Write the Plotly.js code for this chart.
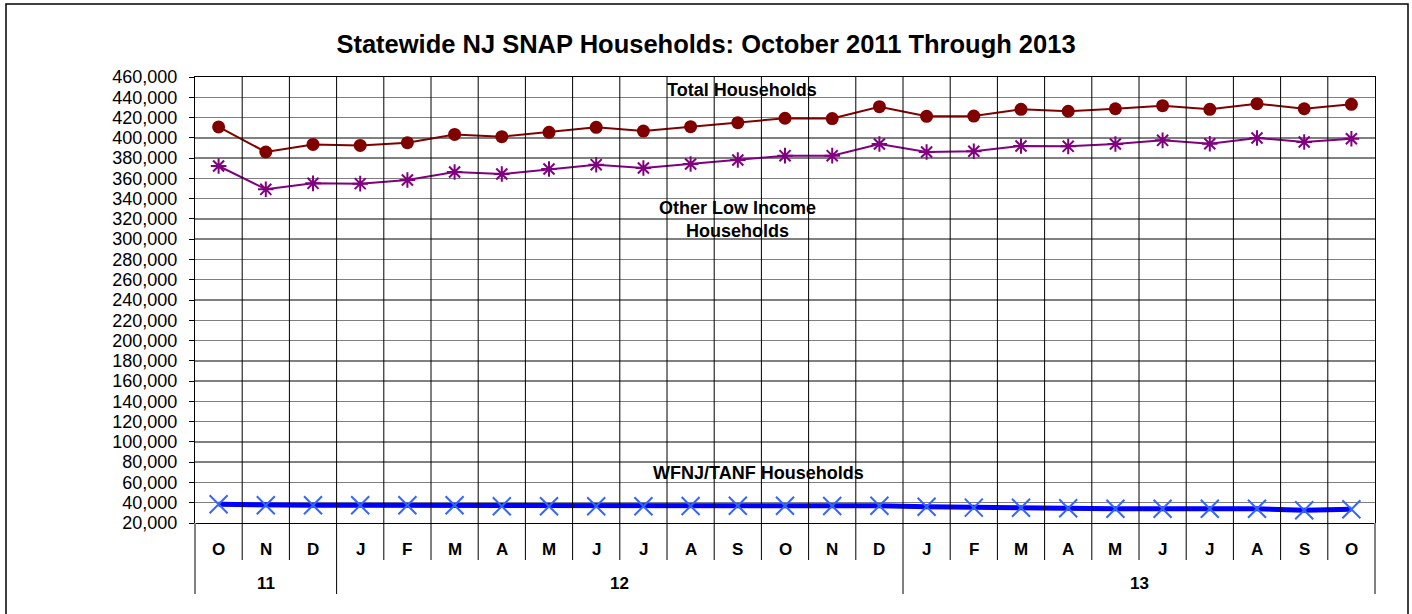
<!DOCTYPE html>
<html>
<head>
<meta charset="utf-8">
<script src="https://cdn.plot.ly/plotly-3.0.1.min.js"></script>
<style>
  html, body { margin: 0; padding: 0; background: #fff; }
  #chart { width: 1412px; height: 614px; }
</style>
</head>
<body>
<div id="chart"></div>
<script>
// ---- Data ----
const months = ["O","N","D","J","F","M","A","M","J","J","A","S","O","N","D","J","F","M","A","M","J","J","A","S","O"];
const years  = ["11","11","11","12","12","12","12","12","12","12","12","12","12","12","12","13","13","13","13","13","13","13","13","13","13"];
const totalHouseholds = [410700, 386000, 393500, 392500, 395200, 403300, 401100, 405400, 410400, 406700, 411000, 414900, 419300, 419000, 430700, 421200, 421500, 428100, 426200, 428700, 431700, 428100, 433700, 428700, 433000];
const otherLowIncome  = [372200, 349200, 355100, 354800, 358400, 366300, 364300, 369200, 373500, 370200, 374200, 378100, 382400, 382400, 393900, 386000, 386700, 391900, 391600, 393900, 397500, 394200, 399800, 395900, 399100];
const tanfHouseholds  = [38500, 37500, 37500, 37500, 37500, 37500, 36500, 36500, 36500, 36500, 36700, 37000, 37000, 36800, 37000, 36000, 35200, 35000, 34500, 34000, 34000, 34000, 34000, 32500, 33500];
const yTickLabels = [];
for (let v = 20000; v <= 460000; v += 20000) yTickLabels.push(v);

// ---- Geometry helpers (pixels of plot area) ----
const W = 1412, H = 614;
const L = 195, R = 1375, T = 77, B = 523;
const pw = R - L, ph = B - T;
const n = months.length;
const idx = months.map((_, i) => i);
const px2paperY = y => (B - y) / ph;
const px2paperX = x => (x - L) / pw;
const FONT = 'Liberation Sans, Arial, sans-serif';

const shapes = [];
// year groups
const yearGroups = [];
let start = 0;
for (let i = 1; i <= n; i++) {
  if (i === n || years[i] !== years[start]) {
    yearGroups.push({label: years[start], s: start, e: i - 1});
    start = i;
  }
}
const yearBoundaries = new Set([0, n]);
yearGroups.forEach(g => { yearBoundaries.add(g.s); yearBoundaries.add(g.e + 1); });

for (let b = 0; b <= n; b++) {
  const xp = b / n;
  const isYear = yearBoundaries.has(b);
  const isEdge = (b === 0 || b === n);
  shapes.push({
    type: 'line', xref: 'paper', yref: 'paper',
    x0: xp, x1: xp,
    y0: isYear ? px2paperY(594) : px2paperY(560),
    y1: isEdge ? 0 : 1,
    line: {color: isEdge ? '#808080' : '#000', width: isEdge ? 2 : 1}
  });
}
// outer frame
shapes.push({
  type: 'rect', xref: 'paper', yref: 'paper',
  x0: px2paperX(6), x1: px2paperX(1408),
  y0: px2paperY(640), y1: px2paperY(4),
  line: {color: '#000', width: 1.5}, fillcolor: 'rgba(0,0,0,0)'
});

const annotations = [];
yearGroups.forEach(g => {
  annotations.push({
    xref: 'x', yref: 'paper', x: (g.s + g.e) / 2, y: px2paperY(583),
    text: '<b>' + g.label + '</b>', showarrow: false, yanchor: 'middle',
    font: {family: FONT, size: 17, color: '#000'}
  });
});
months.forEach((m, i) => {
  annotations.push({
    xref: 'x', yref: 'paper', x: i, y: px2paperY(549),
    text: '<b>' + m + '</b>', showarrow: false, yanchor: 'middle',
    font: {family: FONT, size: 17, color: '#000'}
  });
});
const labFont = {family: FONT, size: 18, color: '#000'};
annotations.push({xref: 'x', yref: 'y', x: 11.09, y: 447000, text: '<b>Total Households</b>', showarrow: false, font: labFont});
annotations.push({xref: 'x', yref: 'y', x: 11.0, y: 319400, text: '<b>Other Low Income<br>Households</b>', showarrow: false, font: labFont});
annotations.push({xref: 'x', yref: 'y', x: 11.43, y: 69300, text: '<b>WFNJ/TANF Households</b>', showarrow: false, font: labFont});

const data = [
  {
    x: idx, y: totalHouseholds, name: 'Total Households', type: 'scatter', mode: 'lines+markers',
    line: {color: '#800000', width: 2},
    marker: {symbol: 'circle', size: 13, color: '#800000'}
  },
  {
    x: idx, y: otherLowIncome, name: 'Other Low Income Households', type: 'scatter', mode: 'lines+markers',
    line: {color: '#800080', width: 2},
    marker: {symbol: 'asterisk-open', size: 13, color: '#800080', line: {color: '#800080', width: 2}}
  },
  {
    x: idx, y: tanfHouseholds, name: 'WFNJ/TANF Households', type: 'scatter', mode: 'lines+markers',
    line: {color: '#0000FF', width: 5},
    marker: {symbol: 'x-thin-open', size: 18, color: '#3366FF', line: {color: '#3366FF', width: 2}}
  }
];

const layout = {
  width: W, height: H,
  margin: {l: L, r: W - R, t: T, b: H - B, pad: 0},
  paper_bgcolor: '#fff', plot_bgcolor: '#fff',
  showlegend: false,
  title: {
    text: '<b>Statewide NJ SNAP Households: October 2011 Through 2013</b>',
    x: 0.5, xref: 'container', xanchor: 'center',
    y: 1 - 44 / H, yref: 'container', yanchor: 'middle',
    font: {family: FONT, size: 25.5, color: '#000'}
  },
  xaxis: {
    type: 'linear', range: [-0.5, n - 0.5],
    showgrid: false, zeroline: false, showticklabels: false, ticks: '',
    showline: true, linecolor: '#000', linewidth: 1, mirror: true, fixedrange: true
  },
  yaxis: {
    range: [20000, 460000], tickvals: yTickLabels, tickformat: ',d',
    showgrid: true, gridcolor: '#808080', gridwidth: 1.5, zeroline: false,
    ticks: 'outside', ticklen: 5, tickcolor: '#000',
    ticklabelstandoff: 8,
    tickfont: {family: FONT, size: 18, color: '#000'},
    showline: true, linecolor: '#000', linewidth: 1, mirror: true, fixedrange: true
  },
  shapes: shapes,
  annotations: annotations
};

Plotly.newPlot('chart', data, layout, {displayModeBar: false, staticPlot: true});
</script>
</body>
</html>
